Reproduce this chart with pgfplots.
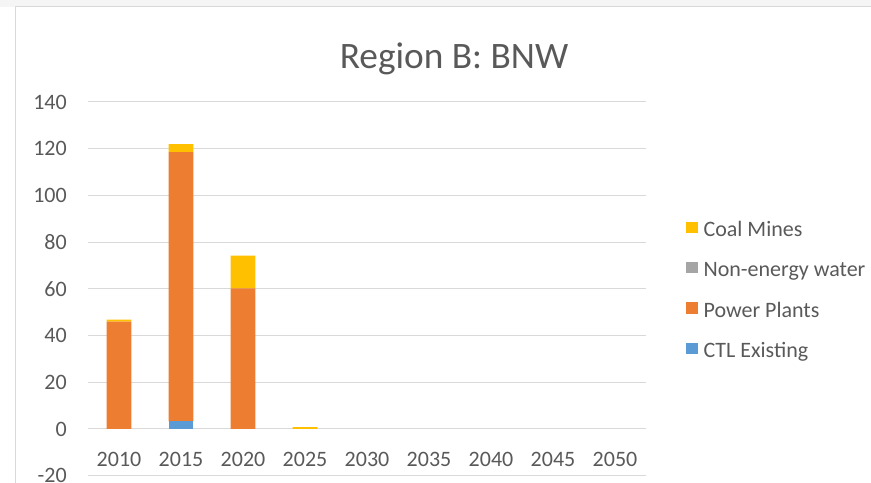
\documentclass[border=0pt]{standalone}
\usepackage{fontspec}
\setmainfont{Carlito}
\usepackage{pgfplots}
\pgfplotsset{compat=1.18}
\definecolor{coal}{HTML}{FFC000}
\definecolor{water}{HTML}{A5A5A5}
\definecolor{power}{HTML}{ED7D31}
\definecolor{ctl}{HTML}{5B9BD5}
\definecolor{txt}{HTML}{595959}
\definecolor{gridc}{HTML}{D9D9D9}

\begin{document}
\begin{tikzpicture}
% picture is 871x482 px, 1 px = 0.75 pt
\useasboundingbox (0,0) rectangle (653.25pt,361.5pt);
\clip (0,0) rectangle (653.25pt,361.5pt);
\fill[black!4] (0,356.25pt) rectangle (653.25pt,361.5pt);
\draw[gridc, line width=0.75pt] (11.25pt,-5pt) -- (11.25pt,356.25pt) -- (660pt,356.25pt);
\node[txt, font=\fontsize{28}{32}\selectfont, inner sep=0pt] at (340.5pt,317pt) {Region B: BNW};

\begin{axis}[
  at={(66pt,4.725pt)}, anchor=south west,
  scale only axis, width=418.5pt, height=280.3pt,
  ybar stacked, bar width=18.5pt,
  xmin=-0.5, xmax=8.5, ymin=-20, ymax=140,
  xtick={0,...,8},
  xticklabels={2010,2015,2020,2025,2030,2035,2040,2045,2050},
  ytick={-20,0,20,40,60,80,100,120,140},
  /pgf/number format/assume math mode=true,
  axis line style={draw=none},
  major tick length=0pt,
  ymajorgrids, grid style={gridc, line width=0.75pt},
  tick label style={txt, font=\fontsize{16.5}{19}\selectfont},
  xticklabel style={anchor=center, yshift=12.2pt, inner sep=0pt},
  yticklabel style={anchor=east, xshift=-15.75pt, inner sep=0pt},
  legend image code/.code={\fill[#1] (0pt,-1.6pt) rectangle (8.5pt,6.9pt);},
  reverse legend,
  legend cell align=left,
  legend style={at={(1.0645,0.493)}, anchor=west, draw=none, fill=none,
    font=\fontsize{16.5}{19}\selectfont, text=txt, row sep=10.75pt,
    nodes={inner xsep=4.5pt, inner ysep=2pt, text height=12pt, text depth=3.5pt}},
]
\addplot[fill=ctl, draw=none] coordinates {(0,0) (1,3.3) (2,0) (3,0) (4,0) (5,0) (6,0) (7,0) (8,0)};
\addplot[fill=power, draw=none] coordinates {(0,46.0) (1,115.2) (2,60.2) (3,0) (4,0) (5,0) (6,0) (7,0) (8,0)};
\addplot[fill=water, draw=none] coordinates {(0,0) (1,0) (2,0) (3,0) (4,0) (5,0) (6,0) (7,0) (8,0)};
\addplot[fill=coal, draw=none] coordinates {(0,0.8) (1,3.5) (2,14.0) (3,0.8) (4,0) (5,0) (6,0) (7,0) (8,0)};
\legend{CTL Existing, Power Plants, Non-energy water, Coal Mines}
\end{axis}
\end{tikzpicture}
\end{document}
